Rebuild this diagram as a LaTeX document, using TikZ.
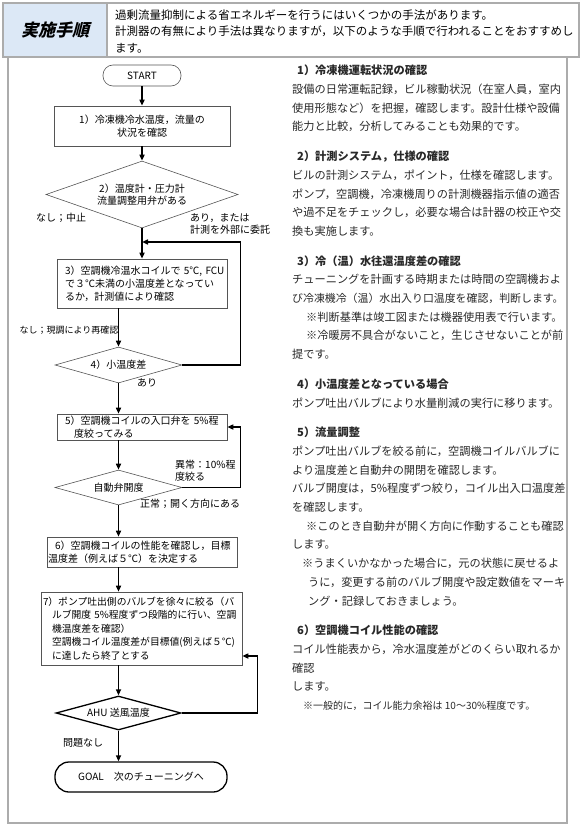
\documentclass[tikz,border=0pt]{standalone}
\usepackage{fontspec}
\setmainfont{Noto Sans CJK JP}
\newfontfamily\titlefont[FakeSlant=0.25]{Noto Sans CJK JP}
\usepackage{tikz}
\usetikzlibrary{shapes.geometric,arrows.meta,positioning}
\definecolor{framegray}{RGB}{172,172,172}
\definecolor{titleblue}{RGB}{220,232,246}
\definecolor{linegray}{RGB}{85,85,85}
\definecolor{notegray}{RGB}{40,40,40}
\tikzset{
  stepbox/.style={draw=linegray, line width=0.6pt, rectangle, inner xsep=8pt, inner ysep=1pt, font=\fontsize{10}{13}\selectfont},
  decision/.style={draw=linegray, line width=0.6pt, diamond, aspect=3, inner sep=0pt, align=center, font=\fontsize{10}{12}\selectfont},
  terminal/.style={draw=linegray, line width=0.6pt, rectangle, rounded corners=10pt, font=\fontsize{10}{12}\selectfont},
  flow/.style={-{Triangle[length=6pt,width=5pt]}, line width=1.5pt},
  branch/.style={inner sep=0pt, align=left, font=\fontsize{10}{11.7}\selectfont},
  frame/.style={draw=framegray, line width=1.2pt},
  notes/.style={anchor=north west, inner sep=0pt, align=left, text=notegray, font=\fontsize{11.2}{18.7}\selectfont}
}
\begin{document}
\begin{tikzpicture}[x=1pt, y=-1pt]
    \useasboundingbox (0,0) rectangle (580,826);
    % header
    \draw[frame] (3,3) rectangle (579,57);
    \node[frame, fill=titleblue, minimum width=104pt, minimum height=54pt, font=\titlefont\bfseries\fontsize{17}{20}\selectfont] (title) at (55,30) {実施手順};
    \node[anchor=north west, inner sep=0pt, align=left, font=\fontsize{11.5}{16.5}\selectfont] (intro) at (115,9.5) {過剰流量抑制による省エネルギーを行うにはいくつかの手法があります。\\計測器の有無により手法は異なりますが，以下のような手順で行われることをおすすめし\\ます。};
    \draw[frame] (8,57) rectangle (567,823);

    % flow chart
    \node[terminal, minimum width=78pt, minimum height=21pt] (start) at (142,75.5) {START};
    \node[stepbox, text width=160pt, align=center, minimum height=40pt] (chk1) at (142,126) {1）冷凍機冷水温度，流量の\\状況を確認};
    \node[decision, minimum width=192pt, minimum height=67pt] (gauge) at (142,194.5) {2）温度計・圧力計\\流量調整用弁がある};
    \node[stepbox, text width=154pt, align=left, minimum height=49pt] (chk3) at (142,283.5) {3）空調機冷温水コイルで~5℃,~FCU\\で３℃未満の小温度差となってい\\るか，計測値により確認};
    \node[decision, minimum width=127pt, minimum height=36pt] (small) at (118.5,365) {4）小温度差};
    \node[stepbox, text width=154pt, align=left, minimum height=26pt] (valve5) at (142,427) {5）空調機コイルの入口弁を~5\%程\\\hspace*{9pt}度絞ってみる};
    \node[decision, minimum width=127pt, minimum height=35pt] (autov) at (118.5,487.5) {自動弁開度};
    \node[stepbox, inner xsep=1pt, text width=188pt, align=left, minimum height=30pt] (coil6) at (142,552) {\hspace*{7pt}6）空調機コイルの性能を確認し，目標\\温度差（例えば５℃）を決定する};
    \node[stepbox, inner xsep=2pt, text width=197pt, align=left, minimum height=73pt, font=\fontsize{9.8}{13.5}\selectfont] (pump7) at (141.5,628.5) {7）ポンプ吐出側のバルブを徐々に絞る（バ\\\hspace*{9pt}ルブ開度~5\%程度ずつ段階的に行い、空調\\\hspace*{9pt}機温度差を確認）\\\hspace*{9pt}空調機コイル温度差が目標値(例えば５℃)\\\hspace*{9pt}に達したら終了とする};
    \node[decision, draw=black, line width=1.3pt, minimum width=125pt, minimum height=34pt] (ahu) at (118.5,713) {AHU~送風温度};
    \node[terminal, draw=black, line width=1.3pt, rounded corners=14pt, minimum width=172pt, minimum height=30pt] (goal) at (141,777) {GOAL　次のチューニングへ};

    % branch labels
    \node[branch] (stop) at (61,218) {なし；中止};
    \node[branch, anchor=west] (outside) at (190,224) {あり，または\\計測を外部に委託};
    \node[branch, font=\fontsize{9}{11}\selectfont] (recheck) at (69,330) {なし；現調により再確認};
    \node[branch] (yes4) at (147,383) {あり};
    \node[branch, anchor=west] (abnormal) at (175,471) {異常：10\%程\\度絞る};
    \node[branch, anchor=west] (normal) at (140,504) {正常；開く方向にある};
    \node[branch] (okay) at (83,743) {問題なし};

    % connectors
    \coordinate (back3) at (142,242);
    \draw[flow] (start) -- (chk1);
    \draw[flow] (chk1) -- (gauge);
    \draw[flow] (gauge) -- (chk3);
    \draw[flow] (small.east) -- ++(58,0) |- (back3);
    \draw[flow] (small.north |- chk3.south) -- (small);
    \draw[flow] (small) -- (small.south |- valve5.north);
    \draw[flow] (autov.north |- valve5.south) -- (autov);
    \draw[flow] (autov.east) -- ++(58,0) |- (valve5.east);
    \draw[flow] (autov) -- (autov.south |- coil6.north);
    \draw[flow] (autov.south |- coil6.south) -- (autov.south |- pump7.north);
    \draw[flow] (ahu.north |- pump7.south) -- (ahu);
    \draw[flow] (ahu.east) -- ++(76,0) |- ([yshift=-27.5pt]pump7.east);
    \draw[flow] (ahu) -- (ahu.south |- goal.north);

    % explanations
    \node[notes] (sec1) at (292,65) {{\bfseries\hspace*{5pt}1）冷凍機運転状況の確認}\\設備の日常運転記録，ビル稼動状況（在室人員，室内\\使用形態など）を把握，確認します。設計仕様や設備\\能力と比較，分析してみることも効果的です。};
    \node[notes] (sec2) at (292,150.8) {{\bfseries\hspace*{5pt}2）計測システム，仕様の確認}\\ビルの計測システム，ポイント，仕様を確認します。\\ポンプ，空調機，冷凍機周りの計測機器指示値の適否\\や過不足をチェックし，必要な場合は計器の校正や交\\換も実施します。};
    \node[notes] (sec3) at (292,255.3) {{\bfseries\hspace*{5pt}3）冷（温）水往還温度差の確認}\\チューニングを計画する時期または時間の空調機およ\\{\fontsize{10.9}{18.7}\selectfont び冷凍機冷（温）水出入り口温度を確認，判断します。}\\\hspace*{14pt}※判断基準は竣工図または機器使用表で行います。\\\hspace*{14pt}※冷暖房不具合がないこと，生じさせないことが前\\提です。};
    \node[notes] (sec4) at (292,378.5) {{\bfseries\hspace*{5pt}4）小温度差となっている場合}\\ポンプ吐出バルブにより水量削減の実行に移ります。};
    \node[notes] (sec5) at (292,426.9) {{\bfseries\hspace*{5pt}5）流量調整}\\ポンプ吐出バルブを絞る前に，空調機コイルバルブに\\より温度差と自動弁の開閉を確認します。\\バルブ開度は，5\%程度ずつ絞り，コイル出入口温度差\\を確認します。\\\hspace*{14pt}※このとき自動弁が開く方向に作動することも確認\\します。\\\hspace*{10pt}※うまくいかなかった場合に，元の状態に戻せるよ\\\hspace*{16pt}うに，変更する前のバルブ開度や設定数値をマーキ\\\hspace*{16pt}ング・記録しておきましょう。};
    \node[notes] (sec6) at (292,624.9) {{\bfseries\hspace*{5pt}6）空調機コイル性能の確認}\\コイル性能表から，冷水温度差がどのくらい取れるか\\確認\\します。\\{\fontsize{10}{18.7}\selectfont\hspace*{11pt}※一般的に，コイル能力余裕は 10～30\%程度です。}};
\end{tikzpicture}
\end{document}
